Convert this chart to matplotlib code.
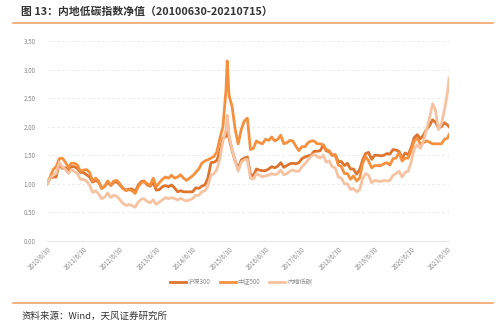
import matplotlib
matplotlib.use("Agg")
import matplotlib.pyplot as plt
import matplotlib.dates as mdates
import pandas as pd

plt.rcParams['font.family'] = ['Noto Sans CJK SC', 'DejaVu Sans']

# dates: month ends, with an extra mid-June 2015 point and final 2021-07-15
months = list(pd.date_range('2010-06-30', '2021-06-30', freq='ME'))
dates = months[:]
dates.insert(dates.index(pd.Timestamp('2015-06-30')), pd.Timestamp('2015-06-12'))
dates.append(pd.Timestamp('2021-07-15'))

hs300 = [
    1.00, 1.10, 1.12, 1.12, 1.35, 1.27, 1.28,
    1.25, 1.30, 1.30, 1.27, 1.20, 1.20, 1.16, 1.12, 1.03, 1.06, 1.03, 0.92,
    0.96, 1.03, 0.97, 1.03, 1.03, 0.98, 0.92, 0.89, 0.91, 0.91, 0.86, 0.98,
    1.04, 1.05, 0.98, 0.96, 1.02, 0.89, 0.90, 0.95, 0.97, 0.95, 0.98, 0.93,
    0.86, 0.88, 0.86, 0.86, 0.86, 0.86, 0.93, 0.92, 0.96, 0.98, 1.10, 1.37,
    1.38, 1.41, 1.57, 1.80, 1.83, 2.08, 1.80, 1.58, 1.40, 1.27, 1.42, 1.45, 1.47,
    1.17, 1.14, 1.26, 1.24, 1.23, 1.23, 1.26, 1.30, 1.28, 1.31, 1.37, 1.29,
    1.32, 1.35, 1.36, 1.35, 1.37, 1.44, 1.47, 1.49, 1.50, 1.57, 1.57, 1.58,
    1.68, 1.58, 1.56, 1.50, 1.51, 1.39, 1.39, 1.32, 1.36, 1.26, 1.26, 1.17,
    1.25, 1.41, 1.53, 1.55, 1.43, 1.50, 1.50, 1.49, 1.50, 1.53, 1.52, 1.60,
    1.59, 1.57, 1.45, 1.54, 1.51, 1.63, 1.81, 1.86, 1.79, 1.85, 1.95, 2.02,
    2.12, 2.08, 1.98, 2.00, 2.07, 2.03, 2.00,
]

zz500 = [
    1.00, 1.12, 1.25, 1.30, 1.44, 1.45, 1.38,
    1.28, 1.36, 1.36, 1.33, 1.22, 1.24, 1.25, 1.20, 1.05, 1.10, 1.05, 0.92,
    0.96, 1.05, 0.98, 1.05, 1.06, 1.00, 0.92, 0.88, 0.90, 0.88, 0.83, 0.95,
    1.02, 1.04, 1.00, 0.98, 1.10, 0.95, 1.02, 1.08, 1.12, 1.10, 1.15, 1.10,
    1.12, 1.16, 1.10, 1.06, 1.10, 1.14, 1.20, 1.26, 1.36, 1.40, 1.42, 1.45,
    1.48, 1.56, 1.80, 2.00, 2.65, 3.15, 2.55, 2.35, 1.95, 1.70, 1.95, 2.10, 2.15,
    1.60, 1.62, 1.75, 1.72, 1.70, 1.78, 1.76, 1.82, 1.75, 1.78, 1.85, 1.70,
    1.72, 1.76, 1.75, 1.66, 1.58, 1.65, 1.65, 1.72, 1.75, 1.75, 1.70, 1.70,
    1.68, 1.60, 1.58, 1.50, 1.50, 1.33, 1.30, 1.18, 1.18, 1.08, 1.14, 1.05,
    1.10, 1.35, 1.48, 1.40, 1.28, 1.32, 1.32, 1.32, 1.35, 1.37, 1.33, 1.44,
    1.45, 1.55, 1.40, 1.45, 1.45, 1.58, 1.75, 1.80, 1.70, 1.72, 1.75, 1.73,
    1.70, 1.70, 1.70, 1.70, 1.78, 1.80, 1.86,
]

lowcarbon = [
    1.00, 1.10, 1.15, 1.18, 1.38, 1.30, 1.25,
    1.18, 1.25, 1.22, 1.18, 1.08, 1.08, 1.05, 0.98, 0.85, 0.88, 0.82, 0.74,
    0.77, 0.84, 0.76, 0.80, 0.78, 0.72, 0.66, 0.62, 0.64, 0.62, 0.59, 0.68,
    0.73, 0.74, 0.69, 0.67, 0.72, 0.64, 0.68, 0.72, 0.76, 0.74, 0.76, 0.74,
    0.72, 0.75, 0.72, 0.70, 0.72, 0.74, 0.80, 0.80, 0.86, 0.88, 0.96, 1.15,
    1.18, 1.25, 1.45, 1.75, 1.95, 2.20, 1.85, 1.60, 1.40, 1.22, 1.38, 1.42, 1.43,
    1.10, 1.08, 1.18, 1.15, 1.12, 1.14, 1.15, 1.18, 1.16, 1.18, 1.24, 1.16,
    1.18, 1.22, 1.24, 1.22, 1.22, 1.30, 1.35, 1.42, 1.48, 1.52, 1.48, 1.45,
    1.50, 1.38, 1.40, 1.30, 1.28, 1.12, 1.10, 1.00, 1.00, 0.90, 0.92, 0.86,
    0.90, 1.08, 1.18, 1.15, 1.02, 1.06, 1.05, 1.04, 1.06, 1.05, 1.06, 1.15,
    1.18, 1.22, 1.12, 1.20, 1.22, 1.38, 1.62, 1.68, 1.62, 1.75, 1.95, 2.15,
    2.40, 2.30, 1.95, 2.05, 2.30, 2.60, 2.85,
]

series_names = ['沪深300', '中证500', '内地低碳']
series_colors = ['#DE742E', '#F5903F', '#F7C2A2']
yticks = [0.0, 0.5, 1.0, 1.5, 2.0, 2.5, 3.0, 3.5]
xtick_dates = [pd.Timestamp(f'{y}-06-30') for y in range(2010, 2022)]
xtick_labels = [f'{y}/6/30' for y in range(2010, 2022)]

fig = plt.figure(figsize=(5.0, 3.29), dpi=100)
ax = fig.add_axes([0.094, 0.2675, 0.804, 0.608])

for vals, name, col in zip([hs300, zz500, lowcarbon], series_names, series_colors):
    ax.plot(dates, vals, color=col, lw=2.0, label=name, solid_joinstyle='round')

ax.set_ylim(0, 3.5)
ax.set_xlim(pd.Timestamp('2010-06-30'), pd.Timestamp('2021-07-15'))
ax.set_yticks(yticks)
ax.set_yticklabels([f'{v:.2f}' for v in yticks])
ax.set_xticks(xtick_dates)
ax.set_xticklabels(xtick_labels, rotation=45, ha='right', rotation_mode='anchor')
ax.tick_params(axis='both', labelsize=4.5, colors='#888888', length=0, pad=3)
ax.tick_params(axis='y', pad=8)
ax.grid(axis='y', color='#E6E6E6', lw=0.6, ls=(0, (3, 3)))
ax.set_axisbelow(True)
for s in ['top', 'right', 'left']:
    ax.spines[s].set_visible(False)
ax.spines['bottom'].set_color('#E0E0E0')
ax.spines['bottom'].set_linewidth(0.6)

leg = fig.legend(loc='center', bbox_to_anchor=(0.482, 0.143), ncol=3, frameon=False,
                 fontsize=4.5, handlelength=2.6, columnspacing=1.4, handletextpad=0.3)
for t in leg.get_texts():
    t.set_color('#888888')

fig.text(0.042, 0.965, '图 13：内地低碳指数净值（20100630-20210715）', fontsize=7.8,
         fontweight='bold', color='#333333', va='center', ha='left')
fig.add_artist(plt.Line2D([0.025, 0.985], [0.931, 0.931], color='#F4A36A', lw=1.2,
                          transform=fig.transFigure))
fig.add_artist(plt.Line2D([0.025, 0.985], [0.079, 0.079], color='#F4A36A', lw=1.2,
                          transform=fig.transFigure))
fig.text(0.042, 0.04, '资料来源：Wind，天风证券研究所', fontsize=6.8, color='#333333',
         va='center', ha='left')

fig.savefig('out.png', dpi=100, facecolor='white')
